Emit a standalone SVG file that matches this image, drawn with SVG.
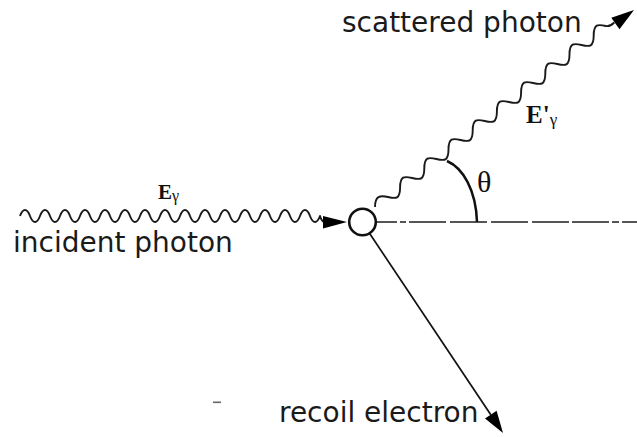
<svg xmlns="http://www.w3.org/2000/svg" width="637" height="437" viewBox="0 0 637 437">
<style>
.lbl{font-family:"DejaVu Sans","Liberation Sans",sans-serif;font-size:28px;fill:#1a1a1a}
.sym{font-family:"Liberation Serif","DejaVu Serif",serif;fill:#111}
.wave{fill:none;stroke:#1a1a1a;stroke-width:1.9;stroke-linejoin:round}
.line{fill:none;stroke:#111;stroke-width:1.7}
.head{fill:#000}
</style>
<rect width="637" height="437" fill="#fff"/>
<g id="connectors">
  <path id="axis" d="M377,222 H637" fill="none" stroke="#555" stroke-width="2" stroke-dasharray="20,3,6,3,37,4,37,4,37,4,37,3,37,3,7,3,20"/>
  <g id="incident">
    <path class="wave" d="M20,216 c3,-8 7,-8 10,0 s7,8 10,0 s7,-8 10,0 s7,8 10,0 s7,-8 10,0 s7,8 10,0 s7,-8 10,0 s7,8 10,0 s7,-8 10,0 s7,8 10,0 s7,-8 10,0 s7,8 10,0 s7,-8 10,0 s7,8 10,0 s7,-8 10,0 s7,8 10,0 s7,-8 10,0 s7,8 10,0 s7,-8 10,0 s7,8 10,0 s7,-8 10,0 s7,8 10,0 s7,-8 10,0 s7,8 10,0 s7,-8 10,0 s7,8 10,0 s7,-8 10,0 s7,8 10,0 s7,-8 10,0 s7,8 10,0 Q322,223 326,222"/>
    <polygon class="head" points="347,222 323,216 323,228.5"/>
  </g>
  <g id="scattered">
    <path class="wave" d="M375,207 c0,-11 5,-12 13,-10
      c8,2 12.1,2 12.1,-9.5 c0,-11.5 4.1,-11.5 12.1,-9.5
      c8,2 12.1,2 12.1,-9.5 c0,-11.5 4.1,-11.5 12.1,-9.5
      c8,2 12.1,2 12.1,-9.5 c0,-11.5 4.1,-11.5 12.1,-9.5
      c8,2 12.1,2 12.1,-9.5 c0,-11.5 4.1,-11.5 12.1,-9.5
      c8,2 12.1,2 12.1,-9.5 c0,-11.5 4.1,-11.5 12.1,-9.5
      c8,2 12.1,2 12.1,-9.5 c0,-11.5 4.1,-11.5 12.1,-9.5
      c8,2 12.1,2 12.1,-9.5 c0,-11.5 4.1,-11.5 12.1,-9.5
      c8,2 12.1,2 12.1,-9.5 c0,-11.5 4.1,-11.5 12.1,-9.5
      c8,2 12.1,2 12.1,-9.5 c0,-11.5 4.1,-11.5 12.1,-9.5
      c3,0.5 6,-1 8.5,-3.5"/>
    <polygon class="head" points="634,10 611.3,17.8 619.5,29.2"/>
  </g>
  <g id="recoil">
    <path class="line" d="M369.5,233.3 L490.8,414.7"/>
    <polygon class="head" points="503,433 496.6,410.8 485,418.6"/>
  </g>
  <path id="angle-arc" d="M447,161 C463,168 476,190 477,222" fill="none" stroke="#111" stroke-width="2.5"/>
</g>
<g id="vertex">
  <circle cx="362.5" cy="222" r="13.3" fill="#fff" stroke="#111" stroke-width="2.6"/>
</g>
<g id="labels">
  <text class="lbl" x="342" y="32">scattered photon</text>
  <text class="lbl" x="13" y="252">incident photon</text>
  <text class="lbl" x="279" y="422">recoil electron</text>
  <text class="sym" x="158" y="199" font-size="21" font-weight="bold">E<tspan font-weight="normal" font-size="16" dy="2">γ</tspan></text>
  <text class="sym" x="526" y="123" font-size="25" font-weight="bold">E'<tspan font-weight="normal" font-size="17" dy="2">γ</tspan></text>
  <text class="sym" x="477" y="192" font-size="30">θ</text>
  <rect x="213" y="401.5" width="8" height="1.6" fill="#666"/>
</g>
</svg>
